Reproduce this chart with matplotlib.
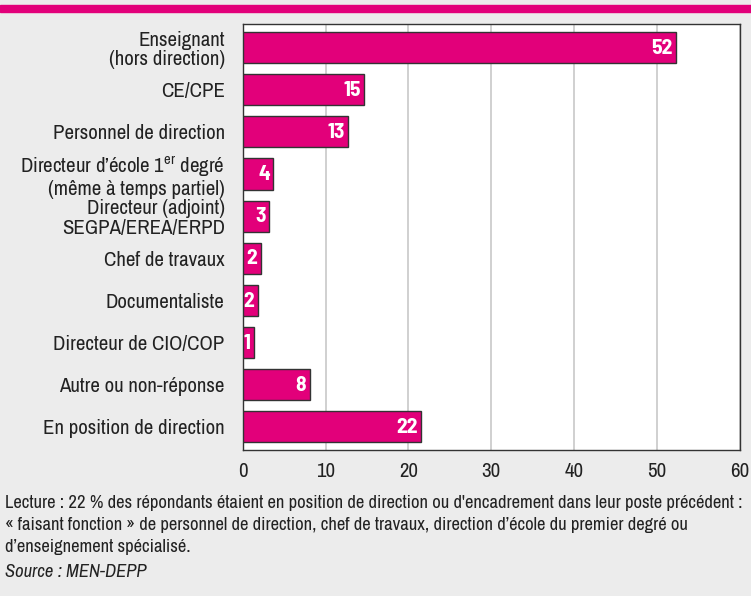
import matplotlib.pyplot as plt

categories = [
    "Enseignant\n(hors direction)",
    "CE/CPE",
    "Personnel de direction",
    "Directeur d\u2019\u00e9cole 1$^{\\rm er}$ degr\u00e9\n(m\u00eame \u00e0 temps partiel)",
    "Directeur (adjoint)\nSEGPA/EREA/ERPD",
    "Chef de travaux",
    "Documentaliste",
    "Directeur de CIO/COP",
    "Autre ou non-r\u00e9ponse",
    "En position de direction",
]
values = [52.3, 14.7, 12.7, 3.7, 3.2, 2.2, 1.8, 1.4, 8.1, 21.5]
value_labels = ["52", "15", "13", "4", "3", "2", "2", "1", "8", "22"]
xticks = [0, 10, 20, 30, 40, 50, 60]

caption = ("Lecture : 22 % des r\u00e9pondants \u00e9taient en position de direction ou d'encadrement dans leur poste pr\u00e9c\u00e9dent :\n"
           "\u00ab faisant fonction \u00bb de personnel de direction, chef de travaux, direction d\u2019\u00e9cole du premier degr\u00e9 ou\n"
           "d\u2019enseignement sp\u00e9cialis\u00e9.")
source = "Source : MEN-DEPP"

magenta = "#e2007a"
bg = "#ececec"
font = "Archivo Narrow"
bold_font = "Barlow Semi Condensed"

plt.rcParams["font.family"] = [font, "DejaVu Sans"]
plt.rcParams["mathtext.fontset"] = "custom"
plt.rcParams["mathtext.rm"] = font

fig = plt.figure(figsize=(7.51, 5.96), dpi=100, facecolor=bg)
ax = fig.add_axes([0.3232, 0.245, 0.6615, 0.7148])
ax.set_facecolor("white")

# top stripe
fig.patches.append(plt.Rectangle((0, 1 - 12 / 596), 1, 7 / 596, transform=fig.transFigure,
                                 color=magenta, zorder=0))

y = list(range(len(categories)))
ax.barh(y, values, height=0.74, color=magenta, edgecolor="#333333", linewidth=1, zorder=3)
for yi, v, lab in zip(y, values, value_labels):
    ax.annotate(lab, (v, yi), xytext=(-2.5, -0.5), textcoords="offset points",
                ha="right", va="center", color="white", fontweight="bold",
                family=[bold_font, "DejaVu Sans"], fontsize=15.5, zorder=4)

ax.set_xlim(0, 60)
ax.set_ylim(9.55, -0.56)
ax.set_xticks(xticks)
ax.set_yticks(y)
ax.set_yticklabels(categories, fontsize=15, color="#222222", linespacing=1.05)
ax.tick_params(axis="y", length=0, pad=13)
ax.tick_params(axis="x", length=0, pad=9, labelsize=15, labelcolor="#222222")
ax.grid(axis="x", color="#c8c8c8", linewidth=1.2, zorder=0)
for s in ax.spines.values():
    s.set_color("#333333")
    s.set_linewidth(1)

fig.text(5 / 751, 1 - 495 / 596, caption, fontsize=13.4, color="#222222",
         va="top", ha="left", linespacing=1.45)
fig.text(5 / 751, 1 - 564 / 596, source, fontsize=13.4, color="#222222",
         va="top", ha="left", style="italic")

fig.savefig("out.png", dpi=100, facecolor=bg)
